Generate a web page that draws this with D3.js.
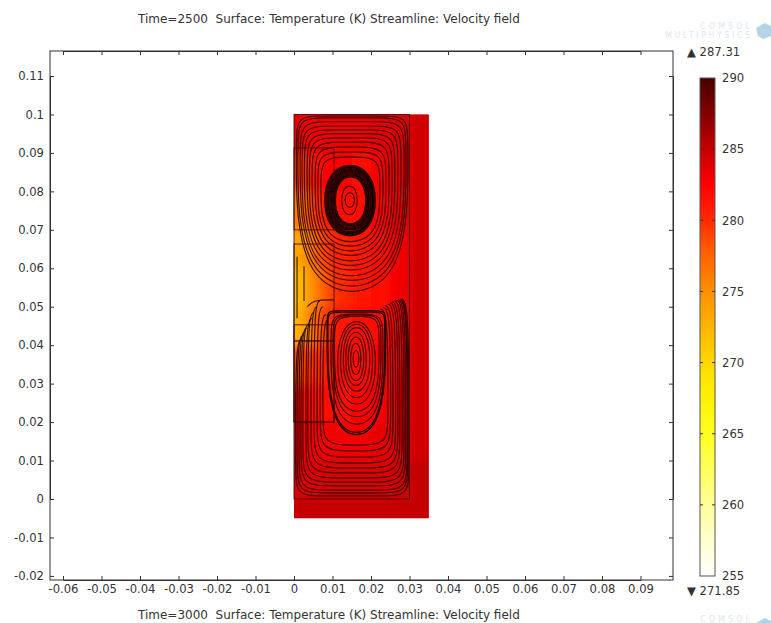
<!DOCTYPE html>
<html>
<head>
<meta charset="utf-8">
<script src="https://cdnjs.cloudflare.com/ajax/libs/d3/7.8.5/d3.min.js"></script>
<style>
body { margin: 0; background: #fff; overflow: hidden; }
text { font-family: "DejaVu Sans", sans-serif; fill: #333; white-space: pre; }
.axis text { font-size: 11.6px; }
.axis path, .axis line { stroke: #333; }
.streamline { fill: none; stroke: #1e0504; stroke-width: 1.15; stroke-opacity: .85; }
.band { stroke: #0c0202; stroke-width: 1.25; stroke-opacity: .95; }
.block { fill: none; stroke: #3a0806; stroke-width: 1; stroke-opacity: .85; }
</style>
</head>
<body>
<svg id="plot" width="771" height="623"></svg>
<script>
var titleTop = "Time=2500  Surface: Temperature (K) Streamline: Velocity field";
var titleBottom = "Time=3000  Surface: Temperature (K) Streamline: Velocity field";
var maxLabel = "287.31";
var minLabel = "271.85";

var xTicks = [-0.06, -0.05, -0.04, -0.03, -0.02, -0.01, 0, 0.01, 0.02, 0.03, 0.04, 0.05, 0.06, 0.07, 0.08, 0.09];
var yTicks = [-0.02, -0.01, 0, 0.01, 0.02, 0.03, 0.04, 0.05, 0.06, 0.07, 0.08, 0.09, 0.1, 0.11];
var barTicks = [255, 260, 265, 270, 275, 280, 285, 290];

// colour table of the bar, temperature then colour
var barStops = [255, 257, 260, 263, 265, 268, 270, 272, 275, 278, 280, 282.5, 285, 287, 290];
var barColors = ["#ffffff", "#ffffd8", "#ffff98", "#ffff50", "#ffff20", "#ffee00", "#ffd800", "#ffbc00", "#ff9000", "#ff5a00", "#ff2a00", "#ff0000", "#c40000", "#900000", "#480000"];

// temperature field, read by eye. rows run top to bottom
var fieldX = [0, 0.0025, 0.005, 0.0075, 0.01, 0.015, 0.02, 0.025, 0.03, 0.035];
var fieldY = [0.1, 0.09, 0.08, 0.07, 0.06, 0.05, 0.04, 0.03, 0.02, 0.01, 0, -0.005];
var fieldT = [
    [283.5, 283, 283, 283, 283, 283, 283.5, 284, 284.5],
    [279, 281, 282, 282.5, 282.5, 282, 283, 283.5, 284.5],
    [276, 278.5, 280, 281, 281.5, 281.5, 282.5, 283.5, 284.5],
    [273.5, 275.5, 278, 279.5, 280.5, 281, 282, 283, 284.5],
    [271.85, 274, 276.5, 278.5, 280, 281, 282, 283, 284.5],
    [272.5, 275.5, 278, 279.5, 281, 281.5, 282, 283, 284.5],
    [279, 279.5, 280, 281, 281.5, 282, 282.5, 283.5, 284.5],
    [281.5, 282, 282, 282, 282, 282.5, 283, 283.5, 284.5],
    [283, 283, 283, 283, 283, 283, 283.5, 284, 284.5],
    [284, 284, 284, 284, 284, 284, 284, 284.5, 285],
    [285, 285, 285, 285, 285, 285, 285, 285, 285]
];

// geometry of the model, x0 x1 y0 y1
var domainBox = [0, 0.035, -0.005, 0.1];
var innerBoxes = [
    [0, 0.03, 0, 0.1],
    [0, 0.0104, 0.07, 0.0913],
    [0, 0.0104, 0.0411, 0.0663],
    [0, 0.0104, 0.02, 0.0453],
    [0, 0.0104, 0.02, 0.0411]
];

// streamlines of the upper cell, x0 x1 y0 y1 of each loop
var upperInner = [
    [0.0132, 0.0158, 0.0757, 0.0798],
    [0.0122, 0.0166, 0.0736, 0.0817]
];
var upperBand = [
    [0.0104, 0.0190, 0.0710, 0.0843],
    [0.0101, 0.0193, 0.0707, 0.0846],
    [0.0099, 0.0195, 0.0704, 0.0849],
    [0.0096, 0.0198, 0.0701, 0.0852],
    [0.0093, 0.0200, 0.0698, 0.0855],
    [0.0091, 0.0203, 0.0695, 0.0858],
    [0.0088, 0.0205, 0.0692, 0.0861],
    [0.0085, 0.0208, 0.0688, 0.0864],
    [0.0083, 0.0210, 0.0685, 0.0867],
    [0.0080, 0.0212, 0.0682, 0.0870],
    [0.0077, 0.0214, 0.0679, 0.0873],
    [0.0074, 0.0217, 0.0676, 0.0876]
];
var upperOuter = [
    [0.0070, 0.0223, 0.0663, 0.0889],
    [0.0062, 0.0231, 0.0650, 0.0902],
    [0.0055, 0.0239, 0.0637, 0.0915],
    [0.0047, 0.0247, 0.0624, 0.0928],
    [0.0040, 0.0255, 0.0609, 0.0939],
    [0.0034, 0.0262, 0.0596, 0.0950],
    [0.0027, 0.0270, 0.0583, 0.0960],
    [0.0021, 0.0278, 0.0567, 0.0970],
    [0.0016, 0.0286, 0.0554, 0.0981],
    [0.0010, 0.0291, 0.0538, 0.0991],
    [0.0006, 0.0296, 0.0523, 0.0996]
];

// streamlines of the lower cell
var lowerInner = [
    [0.0153, 0.0169, 0.0341, 0.0388],
    [0.0146, 0.0175, 0.0320, 0.0408],
    [0.0139, 0.0183, 0.0303, 0.0426],
    [0.0132, 0.0190, 0.0289, 0.0440],
    [0.0125, 0.0200, 0.0273, 0.0453],
    [0.0117, 0.0208, 0.0255, 0.0463],
    [0.0109, 0.0216, 0.0237, 0.0471],
    [0.0105, 0.0221, 0.0220, 0.0475],
    [0.0101, 0.0226, 0.0205, 0.0479],
    [0.0096, 0.0231, 0.0185, 0.0481],
    [0.0088, 0.0236, 0.0161, 0.0486],
    [0.0086, 0.0238, 0.0155, 0.0490]
];
// x0 x1 y0, then where the line stops on the left and on the right
var lowerOuter = [
    [0.0075, 0.0244, 0.0140, 0.0470, 0.0495],
    [0.0068, 0.0251, 0.0125, 0.0480, 0.0499],
    [0.0060, 0.0257, 0.0109, 0.0500, 0.0503],
    [0.0052, 0.0264, 0.0094, 0.0515, 0.0507],
    [0.0044, 0.0270, 0.0081, 0.0500, 0.0510],
    [0.0036, 0.0275, 0.0068, 0.0485, 0.0513],
    [0.0031, 0.0281, 0.0055, 0.0470, 0.0515],
    [0.0023, 0.0286, 0.0044, 0.0455, 0.0517],
    [0.0018, 0.0290, 0.0034, 0.0445, 0.0518],
    [0.0013, 0.0294, 0.0023, 0.0435, 0.0519],
    [0.0008, 0.0296, 0.0016, 0.0425, 0.0520],
    [0.0004, 0.0299, 0.0008, 0.0415, 0.0520]
];

// short open pieces on the hot wall, x then y0 y1
var wallLines = [
    [0.0008, 0.0470, 0.0630],
    [0.0026, 0.0515, 0.0605]
];

var svg = d3.select("#plot");

var x = d3.scaleLinear().domain([-0.06, 0.09]).range([63, 640.5]);
var y = d3.scaleLinear().domain([0, 0.11]).range([499, 76]);
var left = 50, right = 673, top_ = 51, bottom = 580;

var tempColor = d3.scaleLinear().domain(barStops).range(barColors).clamp(true);
var barY = d3.scaleLinear().domain([255, 290]).range([576, 78]);

var defs = svg.append("defs");
defs.append("filter")
        .attr("id", "soft")
        .attr("x", "-10%").attr("y", "-10%").attr("width", "120%").attr("height", "120%")
    .append("feGaussianBlur")
        .attr("stdDeviation", 5);
defs.append("filter")
        .attr("id", "jpeg")
        .attr("x", "-5%").attr("y", "-5%").attr("width", "110%").attr("height", "110%")
    .append("feGaussianBlur")
        .attr("stdDeviation", 0.35);
defs.append("clipPath")
        .attr("id", "domainClip")
    .append("rect")
        .attr("x", x(domainBox[0]))
        .attr("y", y(domainBox[3]))
        .attr("width", x(domainBox[1]) - x(domainBox[0]))
        .attr("height", y(domainBox[2]) - y(domainBox[3]));

var gradient = defs.append("linearGradient")
    .attr("id", "barGradient")
    .attr("x1", 0).attr("y1", 1).attr("x2", 0).attr("y2", 0);
barStops.forEach(function(t, i) {
    gradient.append("stop")
        .attr("offset", (t - 255) / 35)
        .attr("stop-color", barColors[i]);
});

//////////// surface ////////////////
var surface = svg.append("g").attr("clip-path", "url(#domainClip)");
surface.append("rect")
    .attr("x", x(domainBox[0]))
    .attr("y", y(domainBox[3]))
    .attr("width", x(domainBox[1]) - x(domainBox[0]))
    .attr("height", y(domainBox[2]) - y(domainBox[3]))
    .attr("fill", tempColor(283.5));

var cells = surface.append("g").attr("filter", "url(#soft)");
fieldT.forEach(function(row, j) {
    row.forEach(function(t, i) {
        // outer cells run past the clip so the blur does not fade at the edge
        var x0 = x(fieldX[i]) - (i == 0 ? 20 : 0);
        var x1 = x(fieldX[i + 1]) + (i == row.length - 1 ? 20 : 0);
        var y0 = y(fieldY[j]) - (j == 0 ? 20 : 0);
        var y1 = y(fieldY[j + 1]) + (j == fieldT.length - 1 ? 20 : 0);
        cells.append("rect")
            .attr("x", x0)
            .attr("y", y0)
            .attr("width", x1 - x0 + 0.5)
            .attr("height", y1 - y0 + 0.5)
            .attr("fill", tempColor(t));
    });
});

//////////// streamlines ////////////////
var lines = svg.append("g").attr("filter", "url(#jpeg)");

var closedLine = d3.line()
    .x(function(d) { return x(d[0]); })
    .y(function(d) { return y(d[1]); })
    .curve(d3.curveBasisClosed);
var openLine = d3.line()
    .x(function(d) { return x(d[0]); })
    .y(function(d) { return y(d[1]); })
    .curve(d3.curveBasis);

function drawLine(points, line, cls) {
    lines.append("path")
        .attr("class", cls || "streamline")
        .attr("d", line(points));
}

// plain round loop
function roundLoop(b) {
    return [[b[0], b[2]], [b[1], b[2]], [b[1], b[3]], [b[0], b[3]]];
}
// shoulders of radius r on top, egg shaped below
function shoulderLoop(b, r) {
    return [
        [b[0], b[3] - r], [b[0], b[3]], [b[0] + r, b[3]],
        [b[1] - r, b[3]], [b[1], b[3]], [b[1], b[3] - r],
        [b[1], b[2]], [b[0], b[2]]
    ];
}

upperInner.forEach(function(b) {
    drawLine(roundLoop(b), closedLine);
});
upperBand.forEach(function(b) {
    drawLine(roundLoop(b), closedLine, "streamline band");
});
// inner loops are nearly oval, the outer ones get squarer
upperOuter.forEach(function(b, i) {
    var frac = 0.46 - 0.22 * i / (upperOuter.length - 1);
    drawLine(shoulderLoop(b, (b[1] - b[0]) * frac), closedLine);
});
lowerInner.forEach(function(b, i) {
    if (i < 7) {
        drawLine(roundLoop(b), closedLine);
    } else if (i < 10) {
        drawLine(shoulderLoop(b, 0.006), closedLine);
    } else {
        drawLine(shoulderLoop(b, 0.003), closedLine, "streamline band");
    }
});
// open U shapes round the lower cell
lowerOuter.forEach(function(b, i) {
    var r = (b[1] - b[0]) * (0.46 - 0.22 * i / (lowerOuter.length - 1));
    drawLine([
        [b[0] + 0.0015, b[3]], [b[0], b[3] - 0.001], [b[0], b[2] + r], [b[0], b[2]], [b[0] + r, b[2]],
        [b[1] - r, b[2]], [b[1], b[2]], [b[1], b[2] + r], [b[1], b[4] - 0.001], [b[1] - 0.002, b[4]]
    ], openLine);
});
// flat top piece over the left block
drawLine([[0.0035, 0.0500], [0.0050, 0.0518], [0.0104, 0.0518]], openLine);
wallLines.forEach(function(w) {
    drawLine([[w[0], w[1]], [w[0], w[2]]], openLine);
});

//////////// model edges ////////////////
innerBoxes.forEach(function(b) {
    svg.append("rect")
        .attr("class", "block")
        .attr("x", x(b[0]))
        .attr("y", y(b[3]))
        .attr("width", x(b[1]) - x(b[0]))
        .attr("height", y(b[2]) - y(b[3]));
});

//////////// axes ////////////////
// plain hyphen on the negatives, as in the picture
var tickFormat = function(d) { return String(+d.toFixed(2)); };

svg.append("g")
    .attr("class", "axis")
    .attr("transform", "translate(0," + bottom + ")")
    .call(d3.axisBottom(x).tickValues(xTicks).tickSize(-4).tickSizeOuter(0).tickPadding(5).tickFormat(tickFormat));
svg.append("g")
    .attr("class", "axis")
    .attr("transform", "translate(0," + top_ + ")")
    .call(d3.axisTop(x).tickValues(xTicks).tickSize(-4).tickSizeOuter(0).tickFormat(""));
svg.append("g")
    .attr("class", "axis")
    .attr("transform", "translate(" + left + ",0)")
    .call(d3.axisLeft(y).tickValues(yTicks).tickSize(-4).tickSizeOuter(0).tickPadding(6).tickFormat(tickFormat));
svg.append("g")
    .attr("class", "axis")
    .attr("transform", "translate(" + right + ",0)")
    .call(d3.axisRight(y).tickValues(yTicks).tickSize(-4).tickSizeOuter(0).tickFormat(""));

// the axes only span the ticks, close the frame
svg.append("rect")
    .attr("x", left)
    .attr("y", top_)
    .attr("width", right - left)
    .attr("height", bottom - top_)
    .attr("fill", "none")
    .attr("stroke", "#333");

//////////// titles ////////////////
svg.append("text").attr("x", 138).attr("y", 23).style("font-size", "12px").text(titleTop);
svg.append("text").attr("x", 138).attr("y", 619).style("font-size", "12px").text(titleBottom);

//////////// colour bar ////////////////
svg.append("rect")
    .attr("x", 700)
    .attr("y", barY(290))
    .attr("width", 15)
    .attr("height", barY(255) - barY(290))
    .attr("fill", "url(#barGradient)")
    .attr("stroke", "#555");

var barAxis = svg.append("g")
    .attr("class", "axis")
    .attr("transform", "translate(715,0)")
    .call(d3.axisRight(barY).tickValues(barTicks).tickSize(0).tickPadding(7));
barAxis.select(".domain").remove();

barTicks.slice(1, -1).forEach(function(t) {
    svg.append("line")
        .attr("x1", 700).attr("x2", 703)
        .attr("y1", barY(t)).attr("y2", barY(t))
        .attr("stroke", "#333");
    svg.append("line")
        .attr("x1", 712).attr("x2", 715)
        .attr("y1", barY(t)).attr("y2", barY(t))
        .attr("stroke", "#333");
});

svg.append("text").attr("x", 687).attr("y", 56).style("font-size", "11.6px").text("\u25B2 " + maxLabel);
svg.append("text").attr("x", 687).attr("y", 595).style("font-size", "11.6px").text("\u25BC " + minLabel);

//////////// watermark ////////////////
function drawLogo(offset) {
    svg.append("path")
        .attr("d", "M756 " + (28 + offset) + "L765 " + (23 + offset) + "L771 " + (26 + offset) + "L771 " + (36 + offset) + "L763 " + (39 + offset) + "L758 " + (36 + offset) + "Z")
        .attr("fill", "#b4d4e6");
}
function drawWatermark(label, xEnd, base, width) {
    svg.append("text")
        .attr("x", xEnd - width).attr("y", base)
        .attr("textLength", width)
        .attr("lengthAdjust", "spacing")
        .style("font-size", "8px").style("fill", "#dbe7f0")
        .text(label);
}
drawWatermark("COMSOL", 750, 28.5, 50);
drawWatermark("MULTIPHYSICS", 750, 38, 85);
drawLogo(0);
drawWatermark("COMSOL", 750, 622, 50);
drawLogo(595);
</script>
</body>
</html>
